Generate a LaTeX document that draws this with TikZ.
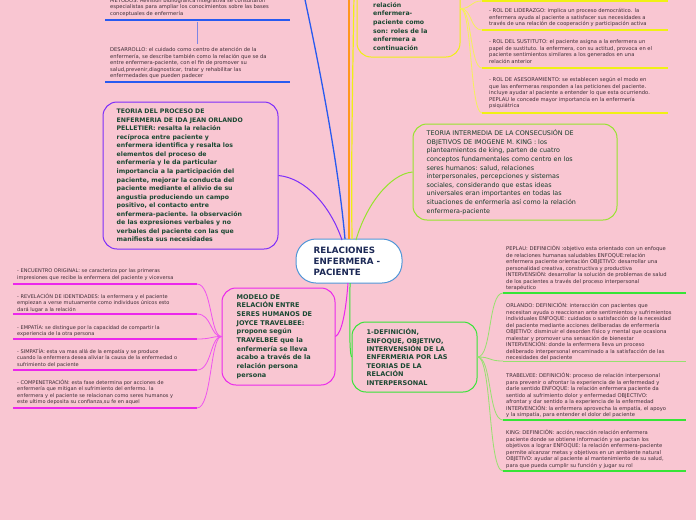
\documentclass[tikz,border=0pt]{standalone}
\usepackage{fontspec}
\setmainfont{DejaVu Sans}
\usetikzlibrary{calc}
\definecolor{bg}{RGB}{249,198,210}
\definecolor{smalltxt}{RGB}{62,46,54}
\definecolor{nodetxt}{RGB}{26,72,50}
\definecolor{navy}{RGB}{27,40,85}
\definecolor{cblue}{RGB}{40,90,240}
\definecolor{corange}{RGB}{255,150,30}
\definecolor{cyellow}{RGB}{240,240,20}
\definecolor{cyellowl}{RGB}{245,240,90}
\definecolor{cpurple}{RGB}{125,45,250}
\definecolor{clime}{RGB}{150,228,45}
\definecolor{cgreen}{RGB}{55,228,55}
\definecolor{cgreenl}{RGB}{150,225,110}
\definecolor{cmag}{RGB}{235,40,235}
\definecolor{centerb}{RGB}{80,150,215}
\tikzset{
  smallt/.style={inner sep=0, anchor=north west, align=left, text=smalltxt, font=\fontsize{5.2}{6.5}\selectfont},
  smallleft/.style={smallt, font=\fontsize{5.05}{6.5}\selectfont},
  boldt/.style={inner sep=0, anchor=west, align=left, text=nodetxt, font=\bfseries\fontsize{6.2}{8.55}\selectfont},
  topicbox/.style={draw, line width=1, rounded corners=14, inner sep=0},
  bar/.style={line width=1.6},
  conn/.style={line width=1},
}
\begin{document}
\begin{tikzpicture}[x=1pt,y=-1pt]
\fill[bg] (0,0) rectangle (696,520);
\useasboundingbox (0,0) rectangle (696,520);

% ---------- central node
\node[topicbox, draw=centerb, fill=white, rounded corners=20, minimum width=106, minimum height=44] (center) at (349,261) {};
\node[inner sep=0, anchor=west, align=left, text=navy, font=\bfseries\fontsize{8.7}{11}\selectfont] (centert) at ($(center.west)+(18,0)$) {RELACIONES\\ENFERMERA -\\PACIENTE};

% ---------- named end points
\coordinate (ctop1) at (345,239);
\coordinate (ctop2) at (349,239);
\coordinate (ctop3) at (352,239);
\coordinate (ctop4) at (356,240);
\coordinate (ctop5) at (342,240);
\coordinate (cbot1) at (348,283);
\coordinate (cbot2) at (350,283);
\coordinate (blueend) at (304,-5);
\coordinate (orangeend) at (349,-5);
\coordinate (yellowend) at (354,-5);

% ---------- lines upward
\draw[conn, cblue, line width=1.3] (ctop1) .. controls (338,160) and (318,60) .. (blueend);
\draw[conn, corange, line width=1.5] (ctop2) -- (orangeend);
\draw[conn, cyellow, line width=1.2] (ctop3) .. controls (351,150) and (353,60) .. (yellowend);

% ---------- top-left blue items
\node[smallt] (metodos) at (110,-2.3) {METODOS: Revisión bibliográfica integrativa se consultaron\\especialistas para ampliar los conocimientos sobre las bases\\conceptuales de enfermería};
\coordinate (b1l) at (105,20); \coordinate (b1r) at (290,20);
\draw[bar, cblue] (b1l) -- (b1r);
\coordinate (v1a) at (197,21.5); \coordinate (v1b) at (197,44);
\draw[cblue!60!bg, line width=0.7] (v1a) -- (v1b);
\node[smallt] (desarrollo) at (110,47.6) {DESARROLLO: el cuidado como centro de atención de la\\enfermería, se describe también como la relación que se da\\entre enfermera-paciente, con el fin de promover su\\salud,prevenir,diagnosticar, tratar y rehabilitar las\\enfermedades que pueden padecer};
\coordinate (b2l) at (105,82); \coordinate (b2r) at (290,82);
\draw[bar, cblue] (b2l) -- (b2r);

% ---------- yellow node (top)
\node[topicbox, draw=cyellow, minimum width=103, minimum height=97] (ybox) at (408.5,8.5) {};
\node[boldt, anchor=north west] (yboxt) at (373,2.2) {relación\\enfermera-\\paciente como\\son: roles de la\\enfermera a\\continuación};

\coordinate (y0) at (482,1);
\coordinate (y1) at (482,30);
\coordinate (y2) at (482,68);
\coordinate (y3) at (482,113);
\foreach \c in {y0,y1,y2,y3}{
  \draw[conn, cyellowl, line width=0.8] (ybox.east) .. controls (472,8.5) and (470,0 |- \c) .. (\c);
}
\draw[bar, cyellow] (y0) -- (668,1);
\draw[bar, cyellow] (y1) -- (668,30);
\draw[bar, cyellow] (y2) -- (668,68);
\draw[bar, cyellow] (y3) -- (668,113);
\node[smallt] (lider) at (489,8.6) {- ROL DE LIDERAZGO: implica un proceso democrático. la\\enfermera ayuda al paciente a satisfacer sus necesidades  a\\través de una relación de cooperación y participación activa};
\node[smallt] (sust) at (489,39.6) {- ROL DEL SUSTITUTO: el paciente asigna a la enfermera un\\papel de sustituto. la enfermera, con su actitud, provoca en el\\paciente sentimientos similares a los generados en una\\relación anterior};
\node[smallt] (ases) at (489,77.6) {- ROL DE ASESORAMIENTO: se establecen según el modo en\\que las enfermeras responden a las peticiones del paciente.\\incluye ayudar al paciente a entender lo que esta ocurriendo.\\PEPLAU le concede mayor importancia en la enfermería\\psiquiátrica};

% ---------- purple node
\node[topicbox, draw=cpurple, minimum width=175, minimum height=147] (pbox) at (190.5,175.5) {};
\node[boldt] (pboxt) at ($(pbox.west)+(14,0)$) {TEORIA DEL PROCESO DE\\ENFERMERIA DE IDA JEAN ORLANDO\\PELLETIER: resalta la relación\\recíproca entre paciente y\\enfermera identifica y resalta los\\elementos del proceso de\\enfermería y le da particular\\importancia a la participación del\\paciente, mejorar la conducta del\\paciente mediante el alivio de su\\angustia produciendo un campo\\positivo, el contacto entre\\enfermera-paciente. la observación\\de las expresiones verbales y no\\verbales del paciente con las que\\manifiesta sus necesidades};
\draw[conn, cpurple] (pbox.east) .. controls (305,178) and (330,205) .. (ctop5);

% ---------- lime node
\node[topicbox, draw=clime, minimum width=204, minimum height=96] (lbox) at (515,172) {};
\node[inner sep=0, anchor=west, align=left, text=nodetxt!85!black, font=\fontsize{6.4}{8.6}\selectfont] (lboxt) at ($(lbox.west)+(14,0)$) {TEORIA INTERMEDIA DE LA CONSECUSIÓN DE\\OBJETIVOS DE IMOGENE M. KING :  los\\planteamientos de king, parten de cuatro\\conceptos fundamentales como centro en los\\seres humanos: salud, relaciones\\interpersonales, percepciones y sistemas\\sociales, considerando que estas ideas\\universales eran importantes en todas las\\situaciones de enfermería así como la relación\\enfermera-paciente};
\draw[conn, clime] (lbox.west) .. controls (390,174) and (366,205) .. (ctop4);

% ---------- green node
\node[topicbox, draw=cgreen, minimum width=125, minimum height=70] (gbox) at (414.5,357) {};
\node[boldt, font=\bfseries\fontsize{6.5}{8.4}\selectfont] (gboxt) at ($(gbox.west)+(15,0)$) {1-DEFINICIÓN,\\ENFOQUE, OBJETIVO,\\INTERVENSIÓN DE LA\\ENFERMERIA POR LAS\\TEORIAS DE LA\\RELACIÓN\\INTERPERSONAL};
\draw[conn, cgreen] (cbot2) .. controls (350,320) and (349,350) .. (gbox.west);

\coordinate (g0) at (503,293);
\coordinate (g1) at (503,361);
\coordinate (g2) at (503,420);
\coordinate (g3) at (503,471);
\foreach \c in {g0,g1,g2,g3}{
  \draw[conn, cgreenl, line width=0.8] (gbox.east) .. controls (492,357) and (488,0 |- \c) .. (\c);
}
\draw[bar, cgreen] (g0) -- (686,293);
\draw[bar, cgreenl, line width=1] (g1) -- (686,361);
\draw[bar, cgreen] (g2) -- (686,420);
\draw[bar, cgreen] (g3) -- (686,471);
\node[smallt] (peplau) at (506,245.6) {PEPLAU: DEFINICIÓN :objetivo esta orientado con un enfoque\\de relaciones humanas saludables ENFOQUE:relación\\enfermera paciente orientación OBJETIVO: desarrollar una\\personalidad creativa, constructiva y productiva\\INTERVENSIÓN: desarrollar la solución de problemas de salud\\de los pacientes  a través del proceso interpersonal\\terapéutico};
\node[smallt] (orlando) at (506,302.6) {ORLANDO: DEFINICIÓN: interacción con pacientes que\\necesitan ayuda o reaccionan ante sentimientos y sufrimientos\\individuales ENFOQUE: cuidados o satisfacción de la necesidad\\del paciente mediante acciones deliberadas de enfermería\\OBJETIVO: disminuir el desorden físico y mental que ocasiona\\malestar y promover una sensación de bienestar\\INTERVENCIÓN: donde la enfermera lleva un proceso\\deliberado interpersonal encaminado a la satisfacción de las\\necesidades del paciente};
\node[smallt] (trabelvee) at (506,372.6) {TRABELVEE: DEFINICIÓN: proceso de relación interpersonal\\para prevenir o afrontar la experiencia de la enfermedad y\\darle sentido ENFOQUE: la relación enfermera paciente da\\sentido al sufrimiento dolor y enfermedad OBJECTIVO:\\afrontar y dar sentido a la experiencia de la enfermedad\\INTERVENCIÓN: la enfermera aprovecha la empatía, el apoyo\\y la simpatía, para entender el dolor del paciente};
\node[smallt] (king) at (506,429.6) {KING: DEFINICIÓN: acción,reacción relación enfermera\\paciente donde se obtiene información y se pactan los\\objetivos a lograr  ENFOQUE: la relación enfermera-paciente\\permite alcanzar metas y objetivos en un ambiente natural\\OBJETIVO: ayudar al paciente al mantenimiento de su salud,\\para que pueda cumplir su función y jugar su rol};

% ---------- magenta node
\node[topicbox, draw=cmag, minimum width=113, minimum height=97] (mbox) at (278.5,336.5) {};
\node[boldt, font=\bfseries\fontsize{6.5}{8.65}\selectfont] (mboxt) at ($(mbox.west)+(15,0)$) {MODELO DE\\RELACIÓN ENTRE\\SERES HUMANOS DE\\JOYCE TRAVELBEE:\\propone  según\\TRAVELBEE que la\\enfermería se lleva\\acabo a través de la\\relación persona\\persona};
\draw[conn, cmag] (cbot1) .. controls (346,310) and (342,333) .. (mbox.east);

\coordinate (m0) at (197,284);
\coordinate (m1) at (197,314);
\coordinate (m2) at (197,339);
\coordinate (m3) at (197,370);
\coordinate (m4) at (197,408);
\foreach \c in {m0,m1,m2,m3,m4}{
  \draw[conn, cmag!80!white, line width=0.8] (mbox.west) .. controls (210,336.5) and (212,0 |- \c) .. (\c);
}
\draw[bar, cmag] (13,284) -- (m0);
\draw[bar, cmag] (13,314) -- (m1);
\draw[bar, cmag] (13,339) -- (m2);
\draw[bar, cmag] (13,370) -- (m3);
\draw[bar, cmag] (13,408) -- (m4);
\node[smallleft] (encuentro) at (17,268.6) {- ENCUENTRO ORIGINAL: se caracteriza por las primeras\\impresiones que recibe la enfermera del paciente y viceversa};
\node[smallleft] (revelacion) at (17,293.6) {- REVELACIÓN DE IDENTIDADES: la enfermera y el paciente\\empiezan a verse mutuamente como individuos únicos  esto\\dará lugar a la relación};
\node[smallleft] (empatia) at (17,324.6) {- EMPATÍA: se distingue por la capacidad de compartir la\\experiencia de la otra persona};
\node[smallleft] (simpatia) at (17,348.6) {- SIMPATÍA: esta va mas allá de la empatía y se produce\\cuando la enfermera desea aliviar la causa de la enfermedad o\\sufrimiento del paciente};
\node[smallleft] (compen) at (17,379.6) {- COMPENETRACIÓN: esta fase determina por acciones de\\enfermería que mitigan el sufrimiento del enfermo. la\\enfermera y el paciente se relacionan como seres humanos y\\este ultimo deposita su confianza,su fe en aquel};

\end{tikzpicture}
\end{document}
